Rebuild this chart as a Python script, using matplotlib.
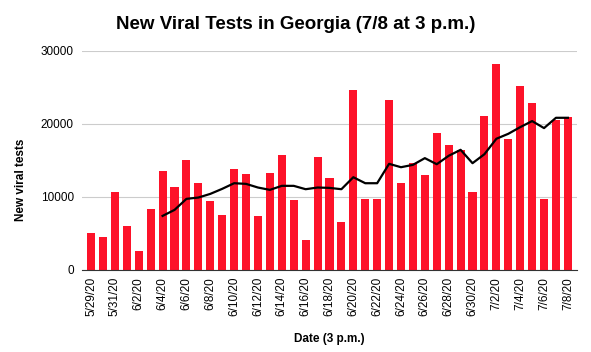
import matplotlib.pyplot as plt

plt.rcParams['font.family'] = ['Liberation Sans', 'DejaVu Sans']

dates = ['5/29/20', '5/30/20', '5/31/20', '6/1/20', '6/2/20', '6/3/20', '6/4/20',
         '6/5/20', '6/6/20', '6/7/20', '6/8/20', '6/9/20', '6/10/20', '6/11/20',
         '6/12/20', '6/13/20', '6/14/20', '6/15/20', '6/16/20', '6/17/20', '6/18/20',
         '6/19/20', '6/20/20', '6/21/20', '6/22/20', '6/23/20', '6/24/20', '6/25/20',
         '6/26/20', '6/27/20', '6/28/20', '6/29/20', '6/30/20', '7/1/20', '7/2/20',
         '7/3/20', '7/4/20', '7/5/20', '7/6/20', '7/7/20', '7/8/20']

tests = [5070, 4470, 10640, 6030, 2600, 8310, 13520,
         11370, 15070, 11870, 9400, 7530, 13840, 13150,
         7400, 13290, 15710, 9540, 4060, 15430, 12600,
         6580, 24660, 9680, 9680, 23290, 11870, 14610,
         13010, 18770, 17120, 16440, 10640, 21100, 28170,
         17950, 25200, 22880, 9680, 20550, 20870]

# 7-day average line, starts on 6/4
avg_start = 6
avg = [7400, 8220, 9730, 9910, 10410, 11100, 11870, 11780, 11280, 10960,
       11510, 11510, 11050, 11280, 11230, 11050, 12690, 11870, 11870, 14520,
       14060, 14380, 15300, 14470, 15620, 16440, 14610, 15840, 17950, 18630,
       19540, 20370, 19410, 20820, 20820]

fig = plt.figure(figsize=(5.91, 3.52), dpi=100)
ax = fig.add_axes([0.139, 0.233, 0.837, 0.623])

x = list(range(len(dates)))
ax.bar(x, tests, width=0.68, color='#fd1229', zorder=2)
ax.plot(x[avg_start:avg_start + len(avg)], avg, color='black', lw=1.6, zorder=3)

ax.set_xlim(-0.75, len(dates) - 0.25)
ax.set_ylim(0, 30000)
ax.set_yticks([0, 10000, 20000, 30000])
ax.set_xticks(x[::2])
ax.set_xticklabels(dates[::2], rotation=90, fontsize=8.5)
ax.tick_params(axis='y', labelsize=8.5, length=0, pad=6)
ax.tick_params(axis='x', length=0, pad=5)
ax.grid(axis='y', color='#cccccc', lw=0.8, zorder=0)

for s in ['top', 'right', 'left']:
    ax.spines[s].set_visible(False)
ax.spines['bottom'].set_color('#333333')
ax.spines['bottom'].set_zorder(4)

ax.set_xlabel('Date (3 p.m.)', fontsize=8.5, fontweight='bold', labelpad=12)
ax.set_ylabel('New viral tests', fontsize=8.5, fontweight='bold')
ax.yaxis.set_label_coords(-0.111, 0.41)
fig.suptitle('New Viral Tests in Georgia (7/8 at 3 p.m.)', fontsize=13.5,
             fontweight='bold', x=0.50, y=0.955)

fig.savefig('out.png', dpi=100)
